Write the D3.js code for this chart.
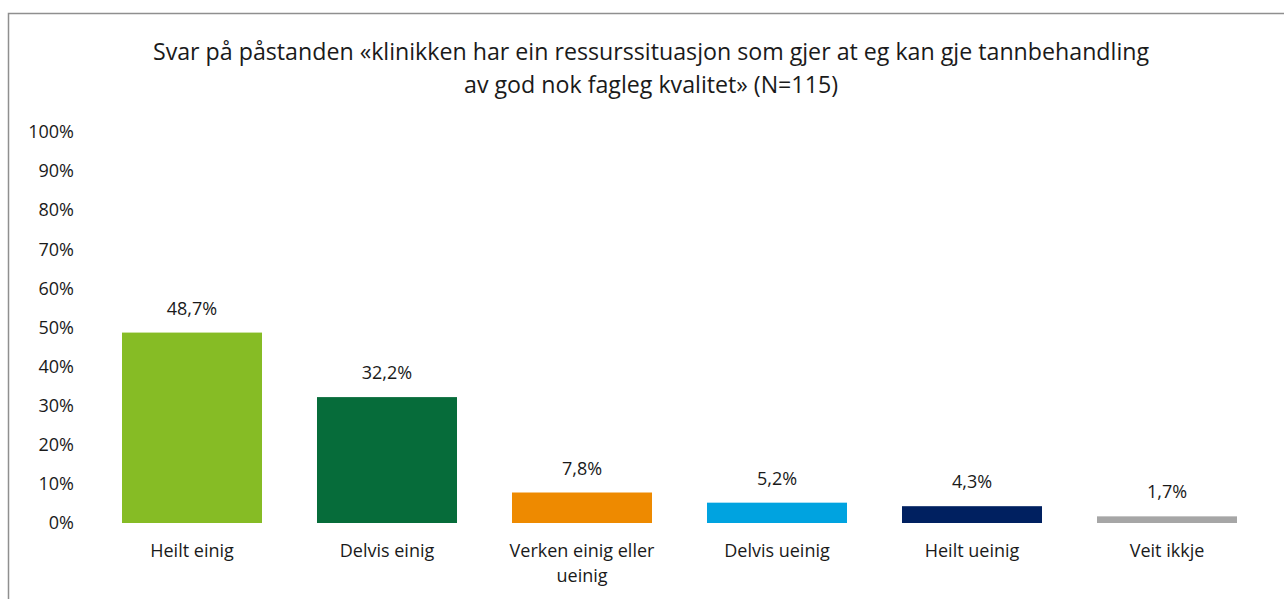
<!DOCTYPE html>
<html>
<head>
<meta charset="utf-8">
<script src="https://cdn.jsdelivr.net/npm/d3@7"></script>
<style>
  html, body { margin: 0; padding: 0; background: #fff; overflow: hidden; }
  svg { display: block; font-family: "Open Sans", sans-serif; }
</style>
</head>
<body>
<svg id="chart" width="1284" height="599"></svg>
<script>
// Data
const categories = ["Heilt einig", "Delvis einig", "Verken einig eller ueinig", "Delvis ueinig", "Heilt ueinig", "Veit ikkje"];
const values = [48.7, 32.2, 7.8, 5.2, 4.3, 1.7];
const barColors = ["#86bc25", "#066c3a", "#ee8a00", "#00a3e0", "#002060", "#a6a6a6"];
const yTicks = [0, 10, 20, 30, 40, 50, 60, 70, 80, 90, 100];
const titleLines = [
  "Svar på påstanden «klinikken har ein ressurssituasjon som gjer at eg kan gje tannbehandling",
  "av god nok fagleg kvalitet» (N=115)"
];

const width = 1284;
const height = 599;
const margin = { top: 132, right: 20, bottom: 76, left: 94.5 };
const fontSize = 18;

const nb = d3.formatLocale({ decimal: ",", thousands: " ", grouping: [3], currency: ["", " kr"] });
const fmtValue = (d) => nb.format(".1f")(d) + "%";

const svg = d3.select("#chart");

// outer frame (cut off on the right and bottom like the source)
svg.append("rect")
  .attr("x", 8.5).attr("y", 13.5)
  .attr("width", 1300).attr("height", 620)
  .attr("fill", "none")
  .attr("stroke", "#8f8f8f")
  .attr("stroke-width", 1.5);

// title
svg.append("g")
  .selectAll("text")
  .data(titleLines)
  .join("text")
  .attr("x", 651)
  .attr("y", (d, i) => 60 + i * 33)
  .attr("text-anchor", "middle")
  .attr("font-size", 23.2)
  .attr("fill", "#1a1a1a")
  .text((d) => d);

const x = d3.scaleBand()
  .domain(categories)
  .range([margin.left, margin.left + 6 * 195])
  .paddingInner(0.282)
  .paddingOuter(0.141);

const y = d3.scaleLinear()
  .domain([0, 100])
  .range([523, margin.top]);

// y axis (labels only)
const yAxis = svg.append("g")
  .attr("transform", "translate(74,0)")
  .call(d3.axisLeft(y).tickValues(yTicks).tickSize(0).tickPadding(0).tickFormat((d) => d + "%"));
yAxis.select(".domain").remove();
yAxis.selectAll("text")
  .attr("font-family", "Open Sans, sans-serif")
  .attr("font-size", fontSize)
  .attr("fill", "#1a1a1a");

// bars
svg.append("g")
  .selectAll("rect")
  .data(values)
  .join("rect")
  .attr("x", (d, i) => x(categories[i]))
  .attr("y", (d) => y(d))
  .attr("width", x.bandwidth())
  .attr("height", (d) => y(0) - y(d))
  .attr("fill", (d, i) => barColors[i]);

// value labels
svg.append("g")
  .selectAll("text")
  .data(values)
  .join("text")
  .attr("x", (d, i) => x(categories[i]) + x.bandwidth() / 2)
  .attr("y", (d) => y(d) - 18)
  .attr("text-anchor", "middle")
  .attr("font-size", fontSize)
  .attr("fill", "#1a1a1a")
  .text(fmtValue);

// category labels (wrap long ones)
const wrapAt = 175;
const xAxis = svg.append("g")
  .attr("transform", `translate(0,${y(0)})`)
  .call(d3.axisBottom(x).tickSize(0).tickPadding(0));
xAxis.select(".domain").remove();
xAxis.selectAll("text")
  .attr("font-family", "Open Sans, sans-serif")
  .attr("font-size", fontSize)
  .attr("fill", "#1a1a1a")
  .attr("dy", null)
  .attr("y", 0)
  .each(function (d) {
    const t = d3.select(this);
    const words = d.split(" ");
    t.text(null);
    let line = [];
    let lineNo = 0;
    let tspan = t.append("tspan").attr("x", 0).attr("y", 34);
    words.forEach((w) => {
      line.push(w);
      tspan.text(line.join(" "));
      if (tspan.node().getComputedTextLength() > wrapAt && line.length > 1) {
        line.pop();
        tspan.text(line.join(" "));
        line = [w];
        lineNo++;
        tspan = t.append("tspan").attr("x", 0).attr("y", 34 + lineNo * 25).text(w);
      }
    });
  });
</script>
</body>
</html>
